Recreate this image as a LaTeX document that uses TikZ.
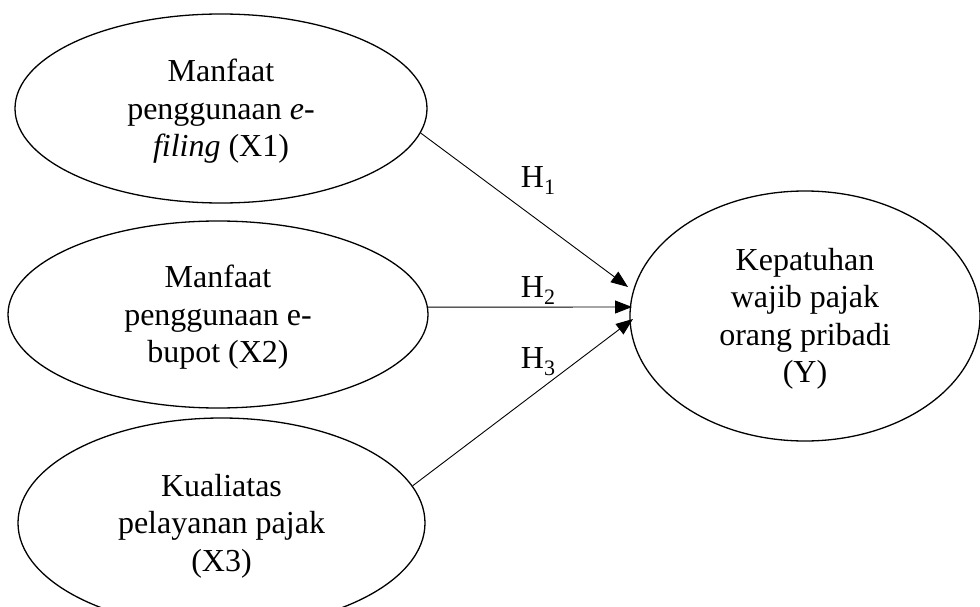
\documentclass[tikz,border=0pt]{standalone}
\usepackage{fontspec}
\setmainfont{Liberation Serif}
\usetikzlibrary{shapes.geometric,arrows.meta}
\newcommand{\hsub}[1]{\raisebox{-0.22em}{\fontsize{22}{22}\selectfont #1}}
\newcommand{\topstrut}{\rule{0pt}{28pt}}
\begin{document}
\begin{tikzpicture}[x=1pt,y=-1pt,
  var/.style={ellipse,draw,line width=1.3pt,inner sep=0pt,align=center,
    font=\fontsize{32}{37.5}\selectfont},
  hyp/.style={font=\fontsize{32}{37.5}\selectfont,inner sep=0pt},
  link/.style={line width=0.9pt,-{Triangle[length=17pt,width=13pt]}}]
\useasboundingbox (0,0) rectangle (980,607);
\node[var,minimum width=412pt,minimum height=189pt] (x1) at (221,108.5)
  {\topstrut Manfaat\\penggunaan \textit{e-}\\\textit{filing} (X1)};
\node[var,minimum width=420pt,minimum height=187pt] (x2) at (218,314.5)
  {\topstrut Manfaat\\penggunaan e-\\bupot (X2)};
\node[var,minimum width=407pt,minimum height=210pt] (x3) at (221.5,523)
  {\topstrut Kualiatas\\pelayanan pajak\\(X3)};
\node[var,minimum width=350pt,minimum height=250pt] (y) at (805,316)
  {\topstrut Kepatuhan\\wajib pajak\\orang pribadi\\(Y)};
\coordinate (t1) at (628,287);
\coordinate (t2) at (632,307);
\coordinate (t3) at (633,319);
\draw[link] (x1.-7.5) -- (t1);
\draw[link] (x2.2) -- (t2);
\draw[link] (x3.11.2) -- (t3);
\node[hyp] (h1) at (538,181) {H\hsub{1}};
\node[hyp] (h2) at (538,291) {H\hsub{2}};
\node[hyp] (h3) at (538,362) {H\hsub{3}};
\end{tikzpicture}
\end{document}
